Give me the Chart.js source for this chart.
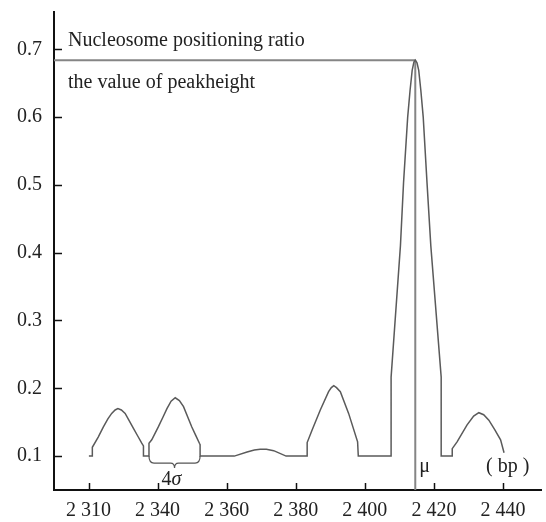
<!DOCTYPE html>
<html>
<head>
<meta charset="utf-8">
<script src="https://cdn.jsdelivr.net/npm/chart.js@4.4.1/dist/chart.umd.min.js"></script>
<style>
  html, body { margin: 0; padding: 0; background: #fff; }
  #wrap { width: 546px; height: 522px; position: relative; }
</style>
</head>
<body>
<div id="wrap"><canvas id="chart"></canvas></div>
<script>
// positions along the sequence (bp) and the positioning ratio
const curveX = [
  2320.1, 2321.1, 2321.1, 2322.8, 2324.3, 2325.6, 2326.7, 2327.7, 2328.5, 2329.5,
  2330.6, 2331.8, 2333.0, 2334.2, 2335.4, 2335.9, 2335.9, 2337.5, 2337.5, 2338.3,
  2340.2, 2341.5, 2342.7, 2343.9, 2345.1, 2346.3, 2347.5, 2349.9, 2351.0, 2352.1,
  2352.3, 2352.3, 2362.2, 2365.9, 2368.0, 2369.7, 2371.5, 2373.6, 2377.2, 2383.3,
  2383.3, 2384.7, 2387.1, 2389.5, 2390.3, 2391.0, 2391.8, 2392.9, 2395.3, 2397.9,
  2398.1, 2407.6, 2407.6, 2410.3, 2411.2, 2412.4, 2413.1, 2413.7, 2414.2, 2414.6,
  2415.1, 2415.6, 2416.2, 2416.9, 2418.0, 2419.1, 2422.1, 2422.1, 2425.3, 2425.3,
  2426.7, 2429.6, 2431.5, 2433.0, 2434.4, 2435.9, 2437.6, 2439.3, 2440.3
];
const curveY = [
  0.100, 0.100, 0.113, 0.128, 0.143, 0.155, 0.163, 0.168, 0.170, 0.168,
  0.163, 0.152, 0.141, 0.130, 0.119, 0.115, 0.100, 0.100, 0.119, 0.124,
  0.143, 0.157, 0.170, 0.181, 0.186, 0.182, 0.173, 0.143, 0.131, 0.119,
  0.117, 0.100, 0.100, 0.106, 0.109, 0.110, 0.110, 0.108, 0.100, 0.100,
  0.120, 0.138, 0.168, 0.195, 0.201, 0.204, 0.201, 0.195, 0.163, 0.121,
  0.100, 0.100, 0.2165, 0.410, 0.503, 0.600, 0.640, 0.669, 0.681, 0.684,
  0.680, 0.669, 0.640, 0.600, 0.503, 0.410, 0.2165, 0.100, 0.100, 0.111,
  0.121, 0.146, 0.159, 0.164, 0.161, 0.153, 0.139, 0.124, 0.105
];

const peakX = 2414.6;       // mu
const peakHeight = 0.684;   // the value of peakheight
const braceRange = [2337.5, 2352.3]; // 4 sigma

const xTicks = [2320, 2340, 2360, 2380, 2400, 2420, 2440];
const xTickLabels = ['2 310', '2 340', '2 360', '2 380', '2 400', '2 420', '2 440'];
const yTicks = [0.1, 0.2, 0.3, 0.4, 0.5, 0.6, 0.7];

const SERIF = '"Liberation Serif", "DejaVu Serif", serif';

const curve = curveX.map((x, i) => ({ x: x, y: curveY[i] }));

// inside tick marks, labels and the 4 sigma brace
const decorations = {
  id: 'decorations',
  afterDraw(chart) {
    const ctx = chart.ctx;
    const xs = chart.scales.x, ys = chart.scales.y;
    const area = chart.chartArea;
    ctx.save();
    ctx.strokeStyle = '#111';
    ctx.lineWidth = 1.5;
    yTicks.forEach(v => {
      const py = Math.round(ys.getPixelForValue(v)) + 0.5;
      ctx.beginPath();
      ctx.moveTo(area.left, py);
      ctx.lineTo(area.left + 8, py);
      ctx.stroke();
    });
    xTicks.forEach(v => {
      const px = Math.round(xs.getPixelForValue(v)) + 0.5;
      ctx.beginPath();
      ctx.moveTo(px, area.bottom);
      ctx.lineTo(px, area.bottom - 7);
      ctx.stroke();
    });

    // brace under the second peak
    const bx0 = xs.getPixelForValue(braceRange[0]);
    const bx1 = xs.getPixelForValue(braceRange[1]);
    const bm = (bx0 + bx1) / 2;
    const by = ys.getPixelForValue(0.1);
    ctx.strokeStyle = '#555';
    ctx.lineWidth = 1.2;
    ctx.beginPath();
    ctx.moveTo(bx0, by);
    ctx.quadraticCurveTo(bx0, by + 7, bx0 + 5, by + 7);
    ctx.lineTo(bm - 4, by + 7);
    ctx.quadraticCurveTo(bm, by + 7, bm, by + 12);
    ctx.quadraticCurveTo(bm, by + 7, bm + 4, by + 7);
    ctx.lineTo(bx1 - 5, by + 7);
    ctx.quadraticCurveTo(bx1, by + 7, bx1, by);
    ctx.stroke();

    ctx.fillStyle = '#222';
    ctx.textBaseline = 'alphabetic';
    ctx.textAlign = 'left';
    ctx.font = '20px ' + SERIF;
    ctx.fillText('Nucleosome positioning ratio', area.left + 14, 46);
    ctx.fillText('the value of peakheight', area.left + 14, 88);

    ctx.font = '20px ' + SERIF;
    ctx.fillText('4', bm - 13, by + 29);
    ctx.font = 'italic 20px ' + SERIF;
    ctx.fillText('\u03c3', bm - 3, by + 29);

    ctx.font = '20px ' + SERIF;
    ctx.fillText('\u03bc', xs.getPixelForValue(peakX) + 4, by + 16);
    ctx.fillText('( bp )', 486, by + 16);
    ctx.restore();
  }
};

new Chart(document.getElementById('chart'), {
  type: 'line',
  data: {
    datasets: [
      {
        data: curve,
        borderColor: '#5a5a5a',
        borderWidth: 1.5,
        pointRadius: 0,
        tension: 0,
        fill: false
      },
      {
        data: [{ x: 2310, y: peakHeight }, { x: peakX, y: peakHeight }],
        borderColor: '#858585',
        borderWidth: 2,
        pointRadius: 0
      },
      {
        data: [{ x: peakX, y: peakHeight }, { x: peakX, y: 0.05 }],
        borderColor: '#858585',
        borderWidth: 2,
        pointRadius: 0
      }
    ]
  },
  options: {
    responsive: true,
    maintainAspectRatio: false,
    animation: false,
    layout: { padding: { top: 12, right: 5, left: 0, bottom: 0 } },
    plugins: { legend: { display: false }, tooltip: { enabled: false } },
    scales: {
      x: {
        type: 'linear',
        min: 2310,
        max: 2451,
        afterFit: (scale) => {
          scale.height = 32;
          scale.paddingLeft = 0;
          scale.paddingRight = 0;
        },
        afterBuildTicks: (scale) => { scale.ticks = xTicks.map(v => ({ value: v })); },
        grid: { display: false, drawTicks: false },
        border: { display: true, color: '#111', width: 2 },
        ticks: {
          padding: 9,
          color: '#222',
          font: { family: SERIF, size: 20 },
          maxRotation: 0,
          autoSkip: false,
          callback: (value, index) => xTickLabels[index]
        }
      },
      y: {
        min: 0.05,
        max: 0.755,
        afterFit: (scale) => {
          scale.width = 54;
          scale.paddingTop = 0;
          scale.paddingBottom = 0;
        },
        afterBuildTicks: (scale) => { scale.ticks = yTicks.map(v => ({ value: v })); },
        grid: { display: false, drawTicks: false },
        border: { display: true, color: '#111', width: 2 },
        ticks: {
          padding: 12,
          color: '#222',
          font: { family: SERIF, size: 20 },
          callback: (value) => value.toFixed(1)
        }
      }
    }
  },
  plugins: [decorations]
});
</script>
</body>
</html>
